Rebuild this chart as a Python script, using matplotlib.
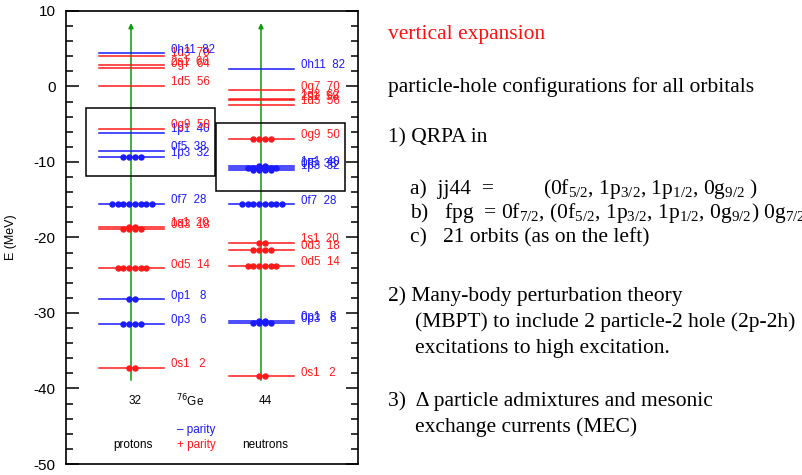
"""Single-particle levels of 76Ge (protons / neutrons) plus notes on the expansion."""

import numpy as np
import matplotlib.pyplot as plt
from matplotlib.patches import Rectangle

plt.rcParams['font.family'] = ['Liberation Sans', 'DejaVu Sans']
plt.rcParams['axes.unicode_minus'] = False
plt.rcParams['mathtext.fontset'] = 'custom'
plt.rcParams['mathtext.rm'] = 'Liberation Serif'
plt.rcParams['mathtext.it'] = 'Liberation Serif:italic'

BLUE = '#1a1aff'
RED = '#ff1a1a'
GREEN = '#0a9a0a'

# proton orbitals: name, cumulative occupancy, energy (MeV), parity (-1 blue / +1 red), occupied dots
p_names = ['0s1', '0p3', '0p1', '0d5', '0d3', '1s1', '0f7', '1p3', '0f5', '1p1',
           '0g9', '1d5', '0g7', '2s1', '1d3', '0h11']
p_occ = [2, 6, 8, 14, 18, 20, 28, 32, 38, 40, 50, 56, 64, 66, 70, 82]
p_energy = [-37.3, -31.4, -28.2, -24.1, -18.9, -18.6, -15.5, -9.35, -8.55, -6.1,
            -5.6, 0.05, 2.5, 2.8, 4.0, 4.4]
p_parity = [1, -1, -1, 1, 1, 1, -1, -1, -1, -1, 1, 1, 1, 1, 1, -1]
p_dots = [2, 4, 2, 6, 4, 2, 8, 4, 0, 0, 0, 0, 0, 0, 0, 0]

# neutron orbitals
n_names = ['0s1', '0p3', '0p1', '0d5', '0d3', '1s1', '0f7', '1p3', '0f5', '1p1',
           '0g9', '1d5', '2s1', '1d3', '0g7', '0h11']
n_occ = [2, 6, 8, 14, 18, 20, 28, 32, 38, 40, 50, 56, 58, 62, 70, 82]
n_energy = [-38.4, -31.3, -31.0, -23.75, -21.6, -20.7, -15.6, -11.0, -10.8, -10.55,
            -6.95, -2.45, -1.85, -1.6, -0.5, 2.35]
n_parity = [1, -1, -1, 1, 1, 1, -1, -1, -1, -1, 1, 1, 1, 1, 1, -1]
n_dots = [2, 4, 2, 6, 4, 2, 8, 4, 6, 2, 4, 0, 0, 0, 0, 0]

fig = plt.figure(figsize=(8.03, 4.75), dpi=100)
ax = fig.add_axes([66.5 / 803, 1 - 464 / 475, (358 - 66.5) / 803, (464 - 11) / 475])
ax.set_xlim(66.5, 358)   # x in figure pixels, for easy placement
ax.set_ylim(-50, 10)


def draw_levels(center, names, occ, energy, parity, dots):
    for name, n, e, par, nd in zip(names, occ, energy, parity, dots):
        col = BLUE if par < 0 else RED
        ax.plot([center - 32, center + 33], [e, e], color=col, lw=1.1, zorder=2)
        if nd:
            xs = center + 1 + (np.arange(nd) - (nd - 1) / 2) * 5.7
            ax.plot(xs, [e] * nd, 'o', color=col, ms=3.6, mec=col, zorder=3)
        ax.text(center + 40, e + 0.1, f'{name}  {n:>2}',
                color=col, fontsize=8.3, va='baseline', ha='left')
    ax.annotate('', xy=(center, 8.4), xytext=(center, -38.9),
                arrowprops=dict(arrowstyle='-|>', color=GREEN, lw=1.1,
                                mutation_scale=7, shrinkA=0, shrinkB=0), zorder=1)


draw_levels(131, p_names, p_occ, p_energy, p_parity, p_dots)
draw_levels(261, n_names, n_occ, n_energy, n_parity, n_dots)

ax.add_patch(Rectangle((86, -11.8), 129, 9.0, fill=False, ec='black', lw=1.1))
ax.add_patch(Rectangle((216, -13.9), 129, 9.0, fill=False, ec='black', lw=1.1))

ax.text(135, -41.6, '32', fontsize=8.5, ha='center', va='center')
ax.text(190, -41.6, r'$^{76}$Ge', fontsize=8.5, ha='center', va='center',
        math_fontfamily='dejavusans')
ax.text(265, -41.6, '44', fontsize=8.5, ha='center', va='center')
ax.text(177, -45.5, '\u2013 parity', color=BLUE, fontsize=8.5, ha='left', va='center')
ax.text(177, -47.5, '+ parity', color=RED, fontsize=8.5, ha='left', va='center')
ax.text(133, -47.5, 'protons', fontsize=8.5, ha='center', va='center')
ax.text(265, -47.5, 'neutrons', fontsize=8.5, ha='center', va='center')

ax.set_yticks(np.arange(-50, 11, 10))
ax.set_yticks(np.arange(-50, 11, 2), minor=True)
ax.set_xticks([])
ax.tick_params(axis='y', which='both', direction='in', left=True, right=True,
               labelsize=11, pad=8)
ax.tick_params(axis='y', which='major', length=9, width=1.1)
ax.tick_params(axis='y', which='minor', length=5, width=1.1)
for sp in ax.spines.values():
    sp.set_linewidth(1.2)
ax.set_ylabel('E (MeV)', fontsize=9, labelpad=12)

# right-hand notes
serif = dict(family='Liberation Serif', fontsize=15.5, va='center', ha='left')
fig.text(388 / 803, 1 - 34 / 475, 'vertical expansion', color='#ff1010', **serif)
fig.text(388 / 803, 1 - 87 / 475, 'particle-hole configurations for all orbitals', **serif)
fig.text(388 / 803, 1 - 138 / 475, '1) QRPA in', **serif)
fig.text(410 / 803, 1 - 189 / 475, 'a)  jj44  =', **serif)
fig.text(543 / 803, 1 - 189 / 475,
         r'(0f$_{5/2}$, 1p$_{3/2}$, 1p$_{1/2}$, 0g$_{9/2}$ )', **serif)
fig.text(410 / 803, 1 - 213 / 475,
         r'b)   fpg  = 0f$_{7/2}$, (0f$_{5/2}$, 1p$_{3/2}$, 1p$_{1/2}$, 0g$_{9/2}$) 0g$_{7/2}$',
         **serif)
fig.text(410 / 803, 1 - 238 / 475, 'c)   21 orbits (as on the left)', **serif)
fig.text(388 / 803, 1 - 296 / 475, '2) Many-body perturbation theory', **serif)
fig.text(415 / 803, 1 - 322 / 475, '(MBPT) to include 2 particle-2 hole (2p-2h)', **serif)
fig.text(415 / 803, 1 - 348 / 475, 'excitations to high excitation.', **serif)
fig.text(388 / 803, 1 - 401 / 475, '3)  \u0394 particle admixtures and mesonic', **serif)
fig.text(415 / 803, 1 - 427 / 475, 'exchange currents (MEC)', **serif)

fig.savefig('out.png', dpi=100)
